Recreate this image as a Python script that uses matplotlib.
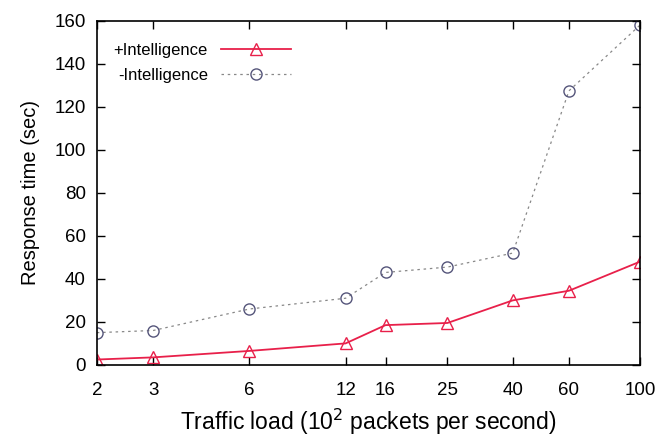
import numpy as np
from matplotlib import pyplot as plt

# NOTE: data
load = [2, 3, 6, 12, 16, 25, 40, 60, 100]
with_intel = [2.5, 3.5, 6.5, 10, 18.5, 19.5, 30, 34.5, 48]
without_intel = [15, 16, 26, 31, 43, 45.5, 52, 127.5, 158]
yticks = [0, 20, 40, 60, 80, 100, 120, 140, 160]

plt.rcParams['font.family'] = ['Liberation Sans', 'DejaVu Sans']

fig = plt.figure(figsize=(6.59, 4.45), dpi=100)
ax = fig.add_axes([0.147, 0.180, 0.824, 0.773])

ax.plot(load, with_intel, color='#e8204a', lw=1.3, marker='^', ms=8,
        mfc='none', mec='#e8204a', mew=1.0, label='+Intelligence')
ax.plot(load, without_intel, color='#888888', lw=0.9, ls=(0, (2, 3)),
        marker='o', ms=8, mfc='none', mec='#55557a', mew=1.0,
        label='-Intelligence')

ax.set_xscale('log')
ax.set_xlim(2, 100)
ax.set_ylim(0, 160)
ax.set_xticks(load)
ax.set_xticklabels([str(v) for v in load])
ax.minorticks_off()
ax.set_yticks(yticks)
ax.tick_params(direction='in', top=True, right=True, length=6, width=1,
               labelsize=13.5)
ax.tick_params(axis='x', pad=12)
ax.tick_params(axis='y', pad=8)
for s in ax.spines.values():
    s.set_linewidth(1.2)

ax.set_xlabel('Traffic load (10$^2$ packets per second)', fontsize=16.5,
              labelpad=6)
ax.set_ylabel('Response time (sec)', fontsize=14.5, labelpad=10)

ax.legend(loc='upper left', frameon=False, markerfirst=False, fontsize=12,
          handlelength=4.2, bbox_to_anchor=(0.0, 0.985), borderaxespad=0.6,
          labelspacing=0.6, handletextpad=0.8)

plt.savefig('out.png', dpi=100)
